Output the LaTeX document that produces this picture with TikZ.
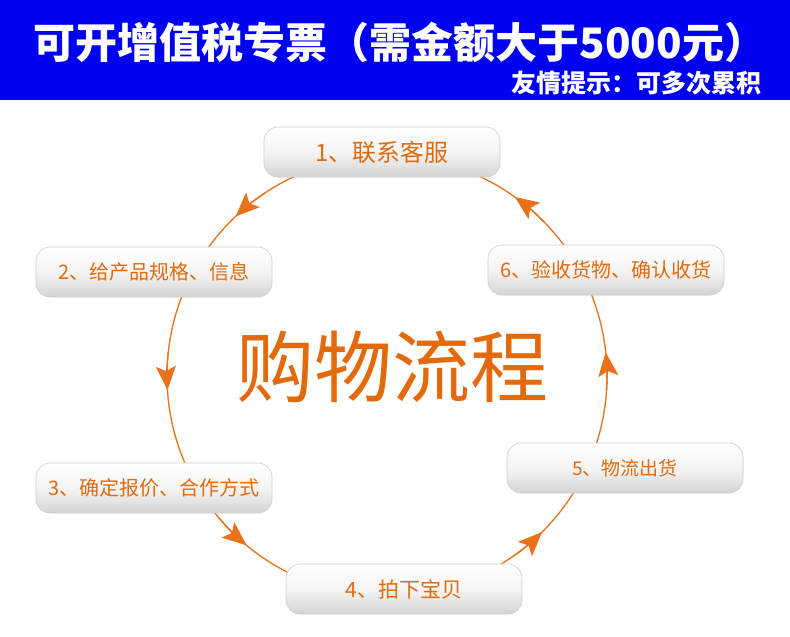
\documentclass[tikz,border=0pt]{standalone}
\usepackage{fontspec}
\newfontfamily\cjk{Noto Sans CJK SC}
\usetikzlibrary{arrows.meta}

\definecolor{hdrblue}{RGB}{0,0,240}
\definecolor{steporange}{RGB}{226,106,12}
\definecolor{ringorange}{RGB}{232,114,26}

\tikzset{
  stepbox/.style={draw=black!20, line width=0.6pt, rounded corners=14pt,
    top color=white, bottom color=black!17, middle color=black!4,
    minimum width=236pt, minimum height=50pt, inner sep=0pt,
    text=steporange, font=\cjk\fontsize{20}{20}\selectfont},
  ring/.style={ringorange, line width=1.3pt},
  ringtip/.style={ring, -{Stealth[length=24pt,width=20pt,inset=5pt]}}
}

\begin{document}
\begin{tikzpicture}[x=1pt,y=-1pt]
  \useasboundingbox (0,0) rectangle (790,637);
  \fill[white] (0,0) rectangle (790,637);

  % Header
  \fill[hdrblue] (0,0) rectangle (790,100);
  \node[text=white, font=\cjk\bfseries\fontsize{42}{42}\selectfont] (title) at (400,42)
    {可开增值税专票（需金额大于5000元）};
  \node[anchor=east, text=white, font=\cjk\bfseries\fontsize{25}{25}\selectfont] (hint) at (765,83)
    {友情提示：可多次累积};

  % Ring with arrow heads
  \coordinate (ring) at (387,376);
  \draw[ring] (ring) circle[radius=220];
  \foreach \a in {-133.5,176.3,129.7,45.2,-6.2,-54.5}
    \draw[ringtip] (ring) ++({\a+10}:220) arc[start angle={\a+10}, end angle=\a, radius=220];

  % Center text
  \node[text=steporange, font=\cjk\fontsize{78}{78}\selectfont] (flow) at (392,367) {购物流程};

  % Steps
  \node[stepbox, font=\cjk\fontsize{24}{24}\selectfont] (s1) at (382,152) {1、联系客服};
  \node[stepbox] (s2) at (154,272) {2、给产品规格、信息};
  \node[stepbox] (s3) at (154,488) {3、确定报价、合作方式};
  \node[stepbox, font=\cjk\fontsize{21}{21}\selectfont] (s4) at (404,589) {4、拍下宝贝};
  \node[stepbox, font=\cjk\fontsize{19}{19}\selectfont] (s5) at (625,468) {5、物流出货};
  \node[stepbox] (s6) at (606,270) {6、验收货物、确认收货};
\end{tikzpicture}
\end{document}
